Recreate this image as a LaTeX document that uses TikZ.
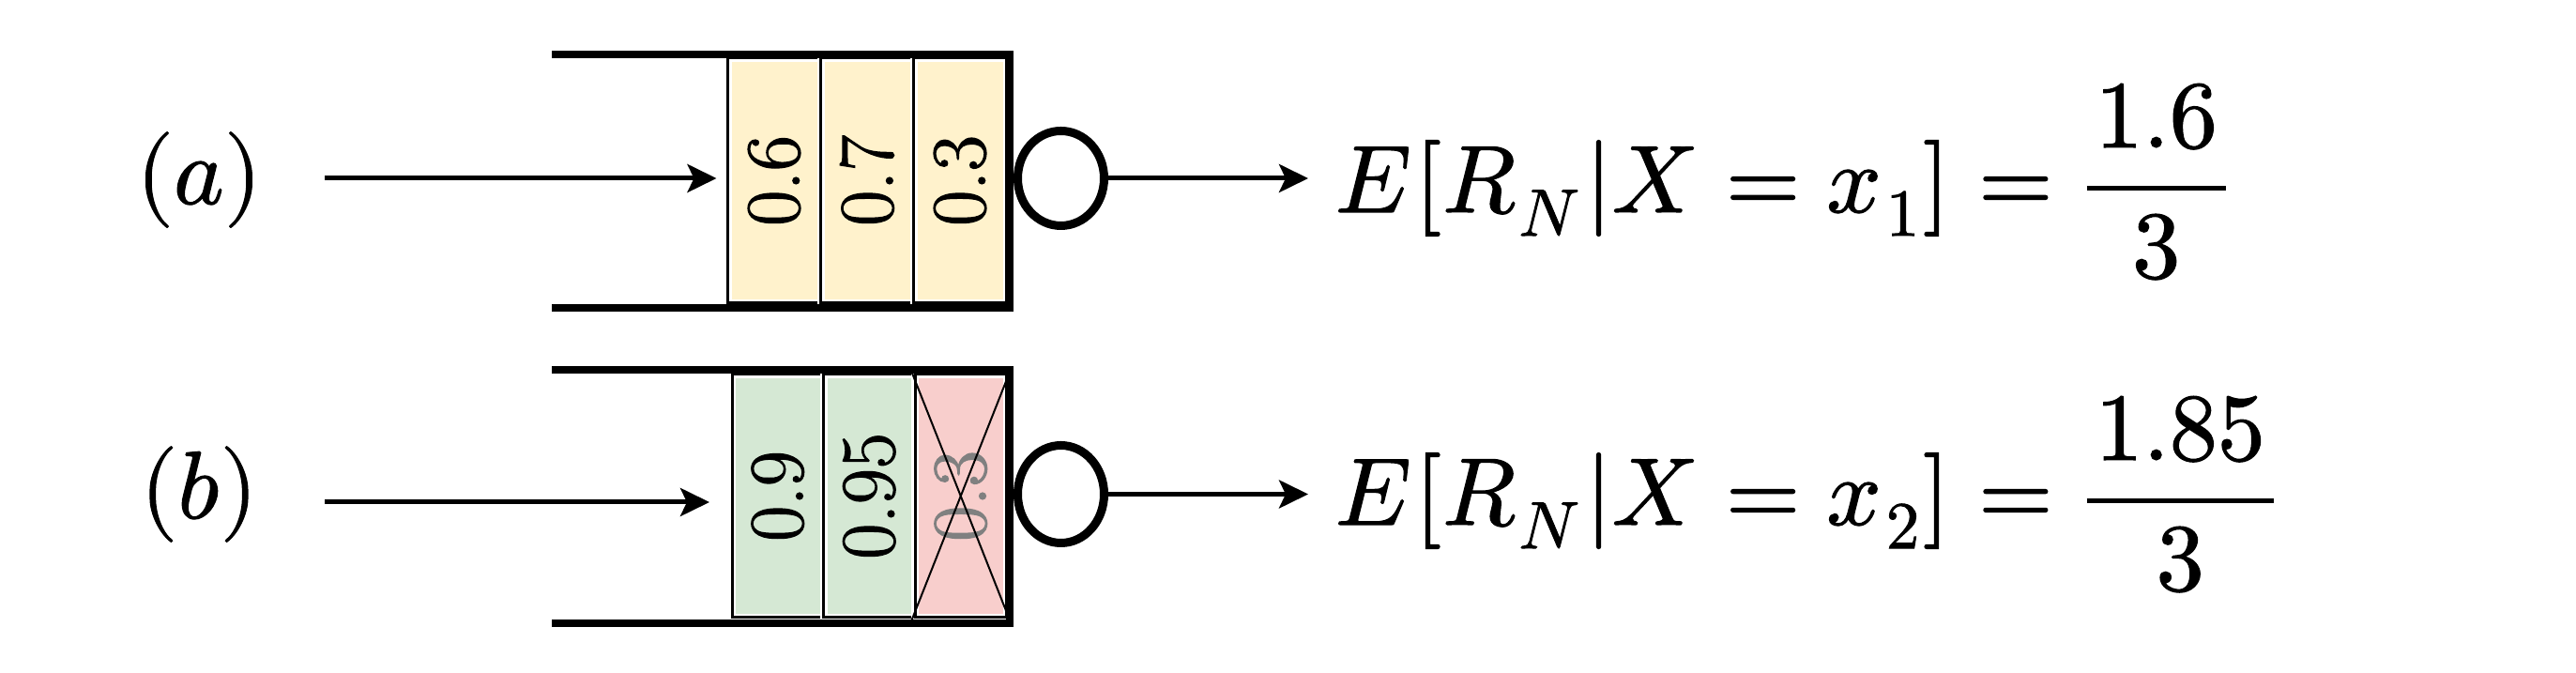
\documentclass[tikz,border=0pt]{standalone}
\usepackage{fontspec}
\usepackage{unicode-math}
\setmainfont{Latin Modern Roman}[FakeBold=1.6]
\setmathfont{Latin Modern Math}[FakeBold=1.2]
\usetikzlibrary{arrows.meta,shapes.geometric}
\definecolor{cellyellow}{HTML}{FFF2CC}
\definecolor{cellgreen}{HTML}{D5E8D4}
\definecolor{cellred}{HTML}{F8CECC}
\tikzset{
  wall/.style={line width=0.085cm, line join=miter},
  conn/.style={line width=0.05cm, -{Stealth[length=0.31cm,width=0.30cm,inset=0.07cm]}},
  cellbox/.style={draw=white, line width=0.08cm, inner sep=0pt, font=\fontsize{23.5}{28}\selectfont,
    postaction={draw=black, line width=0.03cm}},
  cella/.style={cellbox, fill=cellyellow, minimum width=0.99cm, minimum height=2.61cm},
  cellb/.style={cellbox, fill=cellgreen, minimum width=0.975cm, minimum height=2.59cm},
  cellx/.style={cellbox, fill=cellred, text=black!50, minimum width=0.975cm, minimum height=2.59cm},
  server/.style={draw, ellipse, line width=0.09cm, inner sep=0pt, minimum width=0.92cm},
  mathlbl/.style={inner sep=0pt, font=\fontsize{29}{35}\selectfont},
  cross/.style={line width=0.02cm}
}
\newcommand{\expr}[2]{$\displaystyle E\mkern0.8mu[R_{\mkern1mu N}\mkern0.8mu|X\mkern0.6mu = x_{\mkern1.2mu #1}\mkern0.3mu]\mkern0.5mu = \mkern0.6mu\frac{\mkern1.6mu #2\mkern1.6mu}{3}$}
\begin{document}
\begin{tikzpicture}
\useasboundingbox[fill=white] (0,0) rectangle (27.45,-7.17);
% ---- row (a)
\node[mathlbl, anchor=base] (la) at (2.12,-2.17) {$(a)$};
\coordinate (ina) at (3.46,-1.90);
\node[cella] (a1) at (8.25,-1.925) {\rotatebox{90}{0.6}};
\node[cella] (a2) at (9.24,-1.925) {\rotatebox{90}{0.7}};
\node[cella] (a3) at (10.23,-1.925) {\rotatebox{90}{0.3}};
\draw[wall] (5.88,-0.58) -- (10.76,-0.58) -- (10.76,-3.28) -- (5.88,-3.28);
\node[server, minimum height=1.01cm] (sa) at (11.305,-1.90) {};
\node[mathlbl, anchor=base west] (ea) at (14.22,-2.26) {\expr{1}{1.6}};
\draw[conn, shorten >=0.08cm] (ina) -- (ina -| a1.west);
\coordinate (outa) at (13.94,-1.90);
\draw[conn] (sa.east) -- (outa);
% ---- row (b)
\node[mathlbl, anchor=base] (lb) at (2.12,-5.52) {$(b)$};
\coordinate (inb) at (3.46,-5.35);
\node[cellb] (b1) at (8.2875,-5.285) {\rotatebox{90}{0.9}};
\node[cellb] (b2) at (9.2625,-5.285) {\rotatebox{90}{0.95}};
\node[cellx] (b3) at (10.2375,-5.285) {\rotatebox{90}{0.3}};
\draw[cross] (b3.north west) -- (b3.south east);
\draw[cross] (b3.north east) -- (b3.south west);
\draw[wall] (5.88,-3.94) -- (10.76,-3.94) -- (10.76,-6.64) -- (5.88,-6.64);
\node[server, minimum height=1.04cm] (sb) at (11.305,-5.265) {};
\node[mathlbl, anchor=base west] (eb) at (14.22,-5.59) {\expr{2}{1.85}};
\draw[conn, shorten >=0.2cm] (inb) -- (inb -| b1.west);
\coordinate (outb) at (13.94,-5.265);
\draw[conn] (sb.east) -- (outb);
\end{tikzpicture}
\end{document}
